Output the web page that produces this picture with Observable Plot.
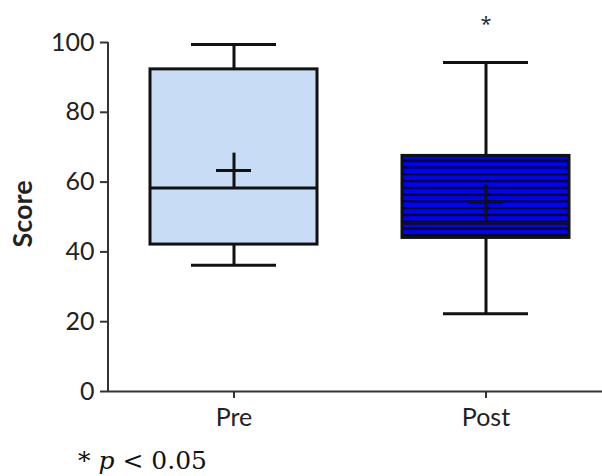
<!DOCTYPE html>
<html><head><meta charset="utf-8">
<script src="https://cdn.jsdelivr.net/npm/d3@7"></script>
<script src="https://cdn.jsdelivr.net/npm/@observablehq/plot@0.6"></script>
<style>
body{margin:0;background:#fff}
#cap{font-family:"DejaVu Serif","Liberation Serif",serif;font-size:25px;line-height:30px;margin:6px 0 0 78px;color:#111;white-space:pre}
</style>
</head><body><div id="chart"></div><div id="cap">* <i>p</i> &lt; 0.05</div>
<script>
const groups = ["Pre", "Post"];
const mins = [36.2, 22.3];
const q1s = [42.1, 44.0];
const medians = [58.3, 48.2];
const q3s = [92.3, 67.5];
const maxs = [99.4, 94.3];
const means = [63.3, 54.2];
const boxFills = ["#c8dcf6", "url(#stripes)"];
const sigLabels = ["", "*"];
const yTicks = [0, 20, 40, 60, 80, 100];

const data = groups.map((g, i) => ({
  group: g, min: mins[i], q1: q1s[i], median: medians[i], q3: q3s[i],
  max: maxs[i], mean: means[i], fill: boxFills[i], sig: sigLabels[i]
}));

const crossHalf = 5;
const ink = "#111";

const yAxisLine = (index, scales, values, dims) => {
  const x = dims.marginLeft;
  return d3.create("svg:line")
    .attr("x1", x).attr("x2", x)
    .attr("y1", scales.y(100)).attr("y2", scales.y(0))
    .attr("stroke", "#333").attr("stroke-width", 2).node();
};

const svg = Plot.plot({
  width: 602,
  height: 440,
  marginLeft: 108,
  marginRight: 0,
  marginTop: 42,
  marginBottom: 49,
  style: {fontFamily: "Lato, 'Open Sans', sans-serif", fontSize: "25px", color: "#222", background: "#fff"},
  x: {domain: groups, paddingInner: 0.337, paddingOuter: 0.1486, align: 0.567, label: null},
  y: {domain: [0, 100], label: null},
  color: {type: "identity"},
  marks: [
    Plot.axisY({ticks: yTicks, tickSize: 8, tickPadding: 6, strokeWidth: 2, stroke: "#333", label: null}),
    Plot.axisX({tickSize: 7, tickPadding: 10, strokeWidth: 2, stroke: "#333", label: null}),
    Plot.text(["Score"], {frameAnchor: "left", textAnchor: "middle", rotate: -90, dx: -85, dy: -3, fontWeight: "bold", fontSize: 27, fill: "#222"}),
    Plot.ruleY([0], {stroke: "#333", strokeWidth: 2}),
    yAxisLine,
    // whiskers
    Plot.ruleX(data, {x: "group", y1: "q3", y2: "max", stroke: ink, strokeWidth: 3}),
    Plot.ruleX(data, {x: "group", y1: "min", y2: "q1", stroke: ink, strokeWidth: 3}),
    Plot.tickY(data, {x: "group", y: "max", stroke: ink, strokeWidth: 3, insetLeft: 41, insetRight: 41}),
    Plot.tickY(data, {x: "group", y: "min", stroke: ink, strokeWidth: 3, insetLeft: 41, insetRight: 41}),
    // boxes
    Plot.barY(data, {x: "group", y1: "q1", y2: "q3", fill: "fill", stroke: ink, strokeWidth: 3}),
    Plot.tickY(data, {x: "group", y: "median", stroke: ink, strokeWidth: 3}),
    // mean crosses
    Plot.tickY(data, {x: "group", y: "mean", stroke: ink, strokeWidth: 3, insetLeft: 66, insetRight: 66}),
    Plot.ruleX(data, {x: "group", y1: d => d.mean - crossHalf, y2: d => d.mean + crossHalf, stroke: ink, strokeWidth: 3}),
    // significance
    Plot.text(data.filter(d => d.sig), {x: "group", text: "sig", frameAnchor: "top", dy: -26, fontSize: 20, fontFamily: "'Open Sans', sans-serif", fill: "#222"})
  ]
});

const defs = d3.select(svg).insert("defs", ":first-child");
const pat = defs.append("pattern").attr("id", "stripes")
  .attr("patternUnits", "userSpaceOnUse").attr("width", 10).attr("height", 6.77);
pat.append("rect").attr("width", 10).attr("height", 6.77).attr("fill", "#0000ff");
pat.append("rect").attr("y", 4).attr("width", 10).attr("height", 2).attr("fill", "#000");

document.getElementById("chart").appendChild(svg);
</script>
</body></html>
